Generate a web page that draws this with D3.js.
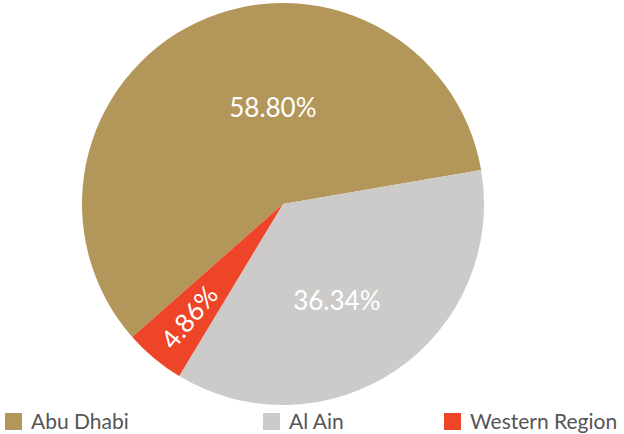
<!DOCTYPE html>
<html>
<head>
<meta charset="utf-8">
<script src="https://cdn.jsdelivr.net/npm/d3@7"></script>
<style>
  body { margin: 0; background: #fff; }
  svg { display: block; }
</style>
</head>
<body>
<div id="chart"></div>
<script>
var regions = ["Abu Dhabi", "Al Ain", "Western Region"];
var shares = [58.80, 36.34, 4.86];
var colors = ["#b39659", "#cccbca", "#ee4428"];

var width = 624, height = 434;
var cx = 283, cy = 204, radius = 201;
var startDeg = -131.4;

// label placement: angle (deg, clockwise from top) and distance from centre
var labelAt = [
  { a: -6, r: 97, rot: false },
  { a: 151, r: 111, rot: false },
  { a: 219.5, r: 147, rot: true }
];

var svg = d3.select("#chart").append("svg")
  .attr("width", width)
  .attr("height", height)
  .style("font-family", "Lato, 'Open Sans', sans-serif");

var pie = d3.pie()
  .sort(null)
  .value(d => d)
  .startAngle(startDeg * Math.PI / 180)
  .endAngle(startDeg * Math.PI / 180 + 2 * Math.PI);

var arc = d3.arc().innerRadius(0).outerRadius(radius);

var g = svg.append("g")
  .attr("transform", `translate(${cx},${cy})`);

var arcs = pie(shares);

g.selectAll("path")
  .data(arcs)
  .join("path")
    .attr("d", arc)
    .attr("fill", (d, i) => colors[i]);

g.selectAll("text.lbl")
  .data(arcs)
  .join("text")
    .attr("class", "lbl")
    .attr("transform", function(d, i) {
      var p = labelAt[i];
      var a = p.a * Math.PI / 180;
      var x = p.r * Math.sin(a), y = -p.r * Math.cos(a);
      var t = `translate(${x},${y})`;
      if (p.rot) t += ` rotate(${p.a - 270})`;
      return t;
    })
    .attr("text-anchor", "middle")
    .attr("dy", "0.35em")
    .attr("fill", "#fff")
    .style("font-size", "26px")
    .text(d => d.data.toFixed(2) + "%");

// legend
var legendX = [5, 263, 444];
var legend = svg.append("g")
  .selectAll("g")
  .data(regions)
  .join("g")
    .attr("transform", (d, i) => `translate(${legendX[i]},413)`);

legend.append("rect")
  .attr("width", 17)
  .attr("height", 17)
  .attr("fill", (d, i) => colors[i]);

legend.append("text")
  .attr("x", 26)
  .attr("y", 9)
  .attr("dy", "0.35em")
  .attr("fill", "#555")
  .style("font-size", "21px")
  .text(d => d);
</script>
</body>
</html>
